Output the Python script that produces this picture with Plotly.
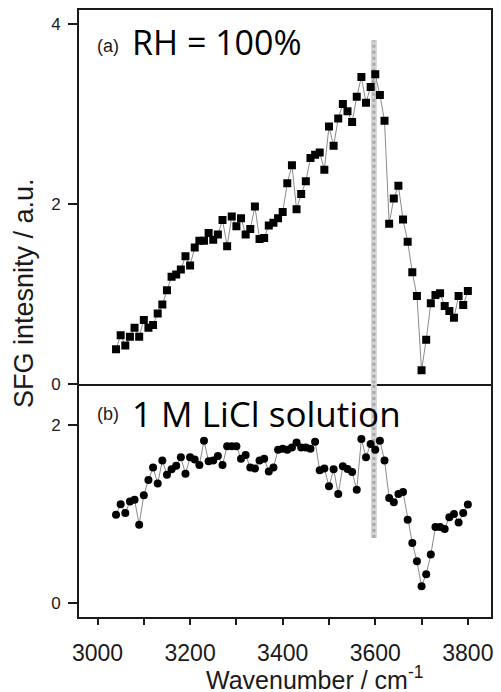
import plotly.graph_objects as go

# ---- data ----
wavenumber = [3040 + 10 * i for i in range(77)]

rh100 = [0.385, 0.54, 0.425, 0.524, 0.624, 0.524, 0.71, 0.624, 0.654, 0.78,
         0.88, 1.04, 1.19, 1.215, 1.27, 1.418, 1.315, 1.515, 1.59, 1.59,
         1.677, 1.60, 1.66, 1.82, 1.53, 1.86, 1.75, 1.84, 1.66, 1.72,
         1.97, 1.61, 1.62, 1.76, 1.79, 1.84, 1.91, 2.23, 2.43, 1.94,
         2.11, 2.25, 2.51, 2.545, 2.57, 2.38, 2.86, 2.645, 2.95, 3.11,
         3.03, 2.91, 3.19, 3.41, 3.125, 3.30, 3.44, 3.21, 2.925, 1.78,
         2.06, 2.20, 1.825, 1.58, 1.24, 0.975, 0.15, 0.49, 0.894, 0.986,
         1.005, 0.864, 0.81, 0.735, 0.975, 0.875, 1.03]

licl = [0.99, 1.11, 1.01, 1.14, 1.16, 0.88, 1.21, 1.38, 1.52, 1.34,
        1.60, 1.44, 1.50, 1.54, 1.635, 1.45, 1.635, 1.61, 1.55, 1.82,
        1.59, 1.60, 1.65, 1.55, 1.76, 1.76, 1.76, 1.62, 1.66, 1.52,
        1.51, 1.60, 1.62, 1.475, 1.52, 1.72, 1.73, 1.72, 1.745, 1.80,
        1.745, 1.745, 1.73, 1.81, 1.49, 1.51, 1.31, 1.50, 1.225, 1.535,
        1.505, 1.47, 1.27, 1.84, 1.635, 1.785, 1.72, 1.82, 1.60, 1.18,
        1.13, 1.225, 1.245, 0.935, 0.674, 0.47, 0.19, 0.324, 0.544, 0.853,
        0.853, 0.83, 0.964, 1.00, 0.905, 1.01, 1.105]

x_ticks = [3000, 3200, 3400, 3600, 3800]
top_yticks = [0, 2, 4]
bot_yticks = [0, 2]
band_x = 3597
band_top_y = [0, 3.82]      # extent in panel (a)
band_bot_y = [0.73, 2.46]   # extent in panel (b)

# ---- figure ----
fig = go.Figure()

AX = "#1a1a1a"
LINE = "#8a8a8a"

# gray marker band (drawn first, under data)
for yr, xa, ya in [(band_top_y, "x", "y"), (band_bot_y, "x2", "y2")]:
    fig.add_trace(go.Scatter(x=[band_x, band_x], y=yr, mode="lines",
                             line=dict(color="#d4d4d4", width=6),
                             xaxis=xa, yaxis=ya, hoverinfo="skip", showlegend=False))
    fig.add_trace(go.Scatter(x=[band_x, band_x], y=yr, mode="lines",
                             line=dict(color="#a9a9a9", width=3, dash="dot"),
                             xaxis=xa, yaxis=ya, hoverinfo="skip", showlegend=False))

fig.add_trace(go.Scatter(x=wavenumber, y=rh100, mode="lines+markers",
                         line=dict(color=LINE, width=1),
                         marker=dict(symbol="square", size=8, color="black"),
                         xaxis="x", yaxis="y", showlegend=False))
fig.add_trace(go.Scatter(x=wavenumber, y=licl, mode="lines+markers",
                         line=dict(color=LINE, width=1),
                         marker=dict(symbol="circle", size=8, color="black"),
                         xaxis="x2", yaxis="y2", showlegend=False))

xr = [2960, 3850]
split = 234 / 609

axis_common = dict(showline=True, linecolor=AX, linewidth=2,
                   showgrid=False, zeroline=False)

fig.update_layout(
    width=501, height=692,
    margin=dict(l=79, r=8, t=8, b=75),
    paper_bgcolor="white", plot_bgcolor="white",
    font=dict(family="Liberation Sans, Arial, sans-serif", color=AX),
    xaxis=dict(range=xr, domain=[0, 1], anchor="y", showticklabels=False,
               ticks="", mirror=True, **axis_common),
    yaxis=dict(range=[0, 4.155], domain=[split, 1], anchor="x",
               tickvals=top_yticks, ticks="outside", ticklen=9, tickwidth=1.5,
               tickcolor=AX, tickfont=dict(size=17), ticklabelstandoff=4,
               mirror=True, **axis_common),
    xaxis2=dict(range=xr, domain=[0, 1], anchor="y2", mirror=False,
                tickvals=x_ticks, ticks="outside", ticklen=6, tickwidth=1.5,
                tickcolor=AX, tickfont=dict(size=23), ticklabelstandoff=8,
                minor=dict(ticks="outside", ticklen=6, tickwidth=1.5,
                           tickcolor=AX, dtick=100),
                **axis_common),
    yaxis2=dict(range=[-0.156, 2.46], domain=[0, split], anchor="x2",
                tickvals=bot_yticks, ticks="outside", ticklen=9, tickwidth=1.5,
                tickcolor=AX, tickfont=dict(size=17), ticklabelstandoff=4,
                mirror=True, **axis_common),
)

big = dict(family="Open Sans, Noto Sans, sans-serif", size=34, color="black")
small = dict(family="Liberation Sans, Arial, sans-serif", size=18, color=AX)

annotations = [
    dict(text="(a)", x=0.038, y=0.941, xanchor="left", yanchor="middle", font=small),
    dict(text="RH = 100%", x=0.124, y=0.947, xanchor="left", yanchor="middle", font=big),
    dict(text="(b)", x=0.038, y=0.335, xanchor="left", yanchor="middle", font=small),
    dict(text="1 M LiCl solution", x=0.124, y=0.336, xanchor="left", yanchor="middle",
         font=dict(family="Open Sans, Noto Sans, sans-serif", size=35, color="black")),
    dict(text="SFG intesnity / a.u.", x=-0.133, y=0.534, textangle=-90,
         xanchor="center", yanchor="middle", font=dict(size=27, color=AX)),
    dict(text="Wavenumber / cm<sup>-1</sup>", x=0.572, y=-0.1,
         xanchor="center", yanchor="middle", font=dict(size=25, color=AX)),
]
for a in annotations:
    a.update(xref="paper", yref="paper", showarrow=False)
fig.update_layout(annotations=annotations)

fig.write_html("out.html")
